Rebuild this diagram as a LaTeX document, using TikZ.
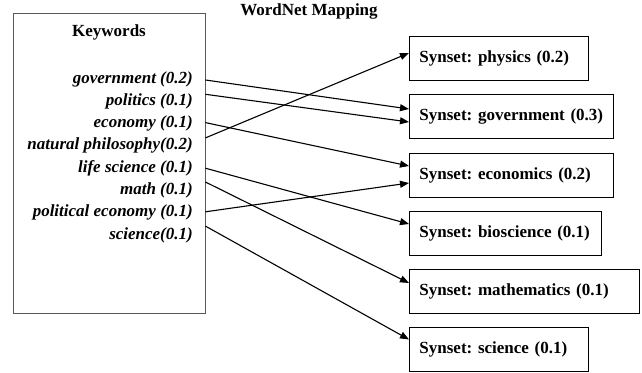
\documentclass[tikz,border=0pt]{standalone}
\usepackage{fontspec}
\setmainfont{Liberation Serif}
\usetikzlibrary{arrows.meta, positioning, calc}
\tikzset{
  kwlist/.style  = {font=\fontsize{17}{22}\selectfont\bfseries\itshape,
                    anchor=base east, inner sep=0pt},
  headline/.style = {font=\fontsize{17}{22}\selectfont\bfseries,
                    anchor=base, inner sep=0pt},
  synset/.style  = {draw=black, line width=0.9pt, anchor=west, align=left,
                    font=\fontsize{17}{22}\selectfont\bfseries\frenchspacing,
                    minimum height=44pt, inner xsep=10pt},
  map/.style     = {-{Triangle[length=9pt, width=7pt]}, line width=1.1pt}
}

\begin{document}
\begin{tikzpicture}[x=1pt, y=-1pt]
\useasboundingbox (0,0) rectangle (642,372);
% ---- Keywords ----
\node[draw=black!65, line width=0.9pt, minimum width=192pt,
      minimum height=300pt, inner sep=0pt] (kwbox) at (109,163) {};
\node[headline] (kwtitle) at (109,36.5) {Keywords};
\node[headline] (maptitle) at (309,16) {WordNet Mapping};
\foreach \i/\word [evaluate=\i as \ky using 83+22.3*(\i-1)] in {%
  1/government (0.2),
  2/politics (0.1),
  3/economy (0.1),
  4/natural philosophy(0.2),
  5/life science (0.1),
  6/math (0.1),
  7/political economy (0.1),
  8/science(0.1)}
  \node[kwlist] (kw\i) at (193,\ky) {\word};

% ---- Synsets (left edge x = 409) ----
\foreach \j/\cy/\w/\txt [evaluate=\w as \tw using \w-20] in {%
  1/58/179/physics (0.2),
  2/116.5/204/government (0.3),
  3/175/204/economics (0.2),
  4/233/192/bioscience (0.1),
  5/291.5/230/mathematics (0.1),
  6/349.5/179/science (0.1)}
  \node[synset, text width=\tw pt] (syn\j) at (409,\cy) {\mbox{Synset: \txt}};

% ---- Mapping arrows ----
\foreach \i/\dy/\j/\ey in {%
  1/-3/2/-7.5, 2/-11/2/5.5, 3/-5/3/-9, 4/-12/1/-5,
  5/-4/4/-9, 6/-12.5/5/-8.5, 7/-5/3/8, 8/-13/6/-10}
  \draw[map] ($(kwbox.east |- kw\i.base)+(0,\dy)$) -- ($(syn\j.west)+(0,\ey)$);
\end{tikzpicture}
\end{document}
